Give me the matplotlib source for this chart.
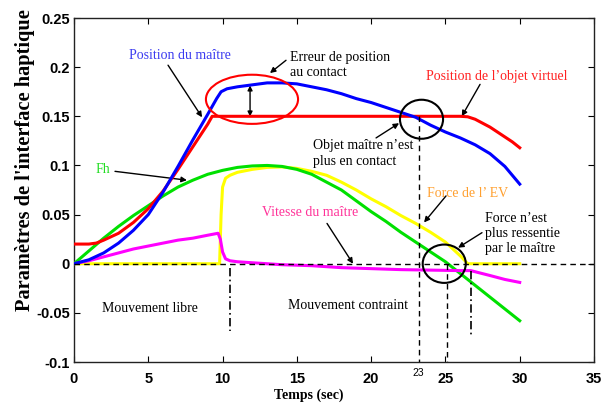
import matplotlib
matplotlib.use("Agg")
import matplotlib.pyplot as plt
from matplotlib.patches import Ellipse
from matplotlib.transforms import ScaledTranslation

# ---------------- data ----------------
t_blue = [0, 1, 2, 3, 4, 5, 6, 7, 8, 9, 9.6, 9.9, 10.3, 11, 12, 13, 14, 15, 16, 17,
          18, 19, 20, 21, 22, 23, 24, 25, 26, 27, 28, 29, 30]
y_blue = [0, 0.004, 0.011, 0.021, 0.034, 0.050, 0.073, 0.099, 0.126, 0.152, 0.168, 0.175,
          0.178, 0.180, 0.182, 0.184, 0.184, 0.183, 0.180, 0.177, 0.173, 0.168, 0.164,
          0.159, 0.154, 0.149, 0.141, 0.134, 0.128, 0.121, 0.112, 0.099, 0.081]

t_red = [0, 1, 1.5, 2, 3, 4, 5, 6, 7, 8, 9, 9.3, 10, 14, 18, 22, 26, 26.5, 27, 27.5,
         28, 28.5, 29, 29.5, 30]
y_red = [0.02, 0.02, 0.021, 0.024, 0.031, 0.042, 0.056, 0.074, 0.096, 0.119, 0.142, 0.150,
         0.150, 0.150, 0.150, 0.150, 0.150, 0.1495, 0.147, 0.143, 0.139, 0.134, 0.129,
         0.124, 0.118]

t_green = list(range(0, 31))
y_green = [0, 0.013, 0.026, 0.038, 0.049, 0.059, 0.069, 0.078, 0.085, 0.091, 0.095,
           0.098, 0.0995, 0.100, 0.099, 0.096, 0.091, 0.083, 0.075, 0.064, 0.053, 0.043,
           0.032, 0.022, 0.012, 0.002, -0.010, -0.022, -0.034, -0.046, -0.058]

t_yellow = [0, 9.8, 9.9, 10.0, 10.2, 10.5, 11, 12, 13, 14, 15, 16, 17, 18, 19, 20, 21,
            22, 23, 24, 25, 26, 26.5, 27, 28, 29, 30]
y_yellow = [0, 0, 0.050, 0.078, 0.087, 0.090, 0.093, 0.096, 0.098, 0.0985, 0.097, 0.094,
            0.090, 0.083, 0.075, 0.066, 0.058, 0.049, 0.041, 0.032, 0.022, 0.008, 0, 0,
            0, 0, 0]

t_mag = [0, 1, 2, 3, 4, 5, 6, 7, 8, 9, 9.7, 9.85, 10.0, 10.2, 10.5, 11, 12, 14, 16, 18,
         20, 22, 24, 26, 26.7, 28, 29, 30]
y_mag = [0, 0.003, 0.007, 0.011, 0.015, 0.018, 0.021, 0.024, 0.026, 0.029, 0.031, 0.025,
         0.012, 0.005, 0.003, 0.002, 0.001, -0.001, -0.002, -0.004, -0.005, -0.006,
         -0.0065, -0.007, -0.007, -0.012, -0.016, -0.019]

x_ticks = [0, 5, 10, 15, 20, 25, 30, 35]
y_ticks = [-0.1, -0.05, 0, 0.05, 0.1, 0.15, 0.2, 0.25]
y_ticklabels = ["-0.1", "-0.05", "0", "0.05", "0.1", "0.15", "0.2", "0.25"]

# ---------------- figure ----------------
fig = plt.figure(figsize=(6.10, 4.03), dpi=100)
ax = fig.add_axes([0.1213, 0.1017, 0.8525, 0.8536])
ax.set_xlim(0, 35)
ax.set_ylim(-0.1, 0.25)

serif = "Liberation Serif"
sans = "Liberation Sans"
lw = 2.2

ax.plot(t_yellow, y_yellow, color="#FFFF00", lw=lw, zorder=2)
ax.plot(t_green, y_green, color="#00E000", lw=lw, zorder=3)
ax.plot(t_mag, y_mag, color="#FF00FF", lw=lw, zorder=3)
ax.plot(t_red, y_red, color="#FF0000", lw=lw, zorder=4)
ax.plot(t_blue, y_blue, color="#0000FF", lw=lw, zorder=5)

# reference lines
ax.plot([0, 35], [0, 0], color="black", lw=1, ls=(0, (4, 3)), zorder=6)
ax.plot([23.2, 23.2], [0.15, -0.1], color="black", lw=1, ls=(0, (4, 3)), zorder=6)
ax.plot([25.1, 25.1], [0, -0.1], color="black", lw=1, ls=(0, (4, 3)), zorder=6)
ax.plot([10.5, 10.5], [-0.004, -0.068], color="black", lw=1.2, ls=(0, (5, 2, 1, 2)), zorder=6)
ax.plot([26.72, 26.72], [-0.007, -0.073], color="black", lw=1.2, ls=(0, (5, 2, 1, 2)), zorder=6)

# ellipses
ax.add_patch(Ellipse((11.98, 0.1673), 6.2, 0.050, fill=False, ec="#FF0000", lw=1.5, zorder=7))
ax.add_patch(Ellipse((23.39, 0.147), 2.9, 0.0397, fill=False, ec="black", lw=1.5, zorder=7))
ax.add_patch(Ellipse((24.92, 0.0), 2.9, 0.039, fill=False, ec="black", lw=1.5, zorder=7))

arrow = dict(arrowstyle="-|>", color="black", lw=1, mutation_scale=8, shrinkA=0, shrinkB=0)
fs = 10

ax.text(7.13, 0.212, "Position du maître", color="#3A3AF0", family=serif, fontsize=fs,
        ha="center", va="center")
ax.annotate("", xy=(8.62, 0.149), xytext=(6.33, 0.202), arrowprops=arrow)

ax.text(14.54, 0.202, "Erreur de position\nau contact", color="black", family=serif,
        fontsize=fs, ha="left", va="center", linespacing=1.25)
ax.annotate("", xy=(13.19, 0.194), xytext=(14.27, 0.207), arrowprops=arrow)
ax.annotate("", xy=(11.85, 0.1814), xytext=(11.85, 0.1498),
            arrowprops=dict(arrowstyle="<|-|>", color="black", lw=1, mutation_scale=7,
                            shrinkA=0, shrinkB=0))

ax.text(28.47, 0.19, "Position de l\u2019objet virtuel", color="#FF2020", family=serif,
        fontsize=fs, ha="center", va="center")
ax.annotate("", xy=(26.1, 0.15), xytext=(27.33, 0.1825), arrowprops=arrow)

ax.text(16.09, 0.112, "Objet maître n\u2019est\nplus en contact", color="black",
        family=serif, fontsize=fs, ha="left", va="center", linespacing=1.25)
ax.annotate("", xy=(21.88, 0.143), xytext=(20.33, 0.128), arrowprops=arrow)

ax.text(1.95, 0.096, "Fh", color="#22DD22", family=serif, fontsize=fs, ha="center",
        va="center")
ax.annotate("", xy=(7.6, 0.085), xytext=(2.76, 0.094), arrowprops=arrow)

ax.text(26.52, 0.071, "Force de l\u2019 EV", color="#FFA030", family=serif, fontsize=fs,
        ha="center", va="center")
ax.annotate("", xy=(23.56, 0.042), xytext=(25.04, 0.069), arrowprops=arrow)

ax.text(15.88, 0.052, "Vitesse du maître", color="#FF3399", family=serif, fontsize=fs,
        ha="center", va="center")
ax.annotate("", xy=(18.78, 0.0), xytext=(17.03, 0.041), arrowprops=arrow)

ax.text(27.66, 0.0306, "Force n\u2019est\nplus ressentie\npar le maître", color="black",
        family=serif, fontsize=fs, ha="left", va="center", linespacing=1.2)
ax.annotate("", xy=(25.85, 0.0163), xytext=(27.46, 0.0316), arrowprops=arrow)

ax.text(5.12, -0.046, "Mouvement libre", color="black", family=serif, fontsize=fs,
        ha="center", va="center")
ax.text(18.44, -0.043, "Mouvement contraint", color="black", family=serif, fontsize=fs,
        ha="center", va="center")

ax.text(23.15, -0.111, "23", color="black", family=sans, fontsize=7.5, ha="center",
        va="center", clip_on=False)

# axes styling
ax.set_xticks(x_ticks)
ax.set_xticklabels([str(v) for v in x_ticks])
ax.set_yticks(y_ticks)
ax.set_yticklabels(y_ticklabels)
ax.tick_params(direction="in", length=4, width=0.8, top=True, right=True,
               labelsize=10.5, pad=3)
for lab in ax.get_xticklabels() + ax.get_yticklabels():
    lab.set_fontfamily(sans)
    lab.set_fontweight("bold")
offset = ScaledTranslation(9 / 100, 0, fig.dpi_scale_trans)
for lab in ax.get_xticklabels():
    lab.set_transform(lab.get_transform() + offset)
ax.tick_params(axis="x", pad=7)
for s in ax.spines.values():
    s.set_linewidth(1.0)
    s.set_color("#222222")

ax.set_xlabel("Temps (sec)", family=serif, fontweight="bold", fontsize=10)
ax.xaxis.set_label_coords(0.452, -0.078)
ax.set_ylabel("Paramètres de l'interface haptique", family=serif, fontweight="bold",
              fontsize=14.7)
ax.yaxis.set_label_coords(-0.075, 0.587)

fig.savefig("out.png", dpi=100)
